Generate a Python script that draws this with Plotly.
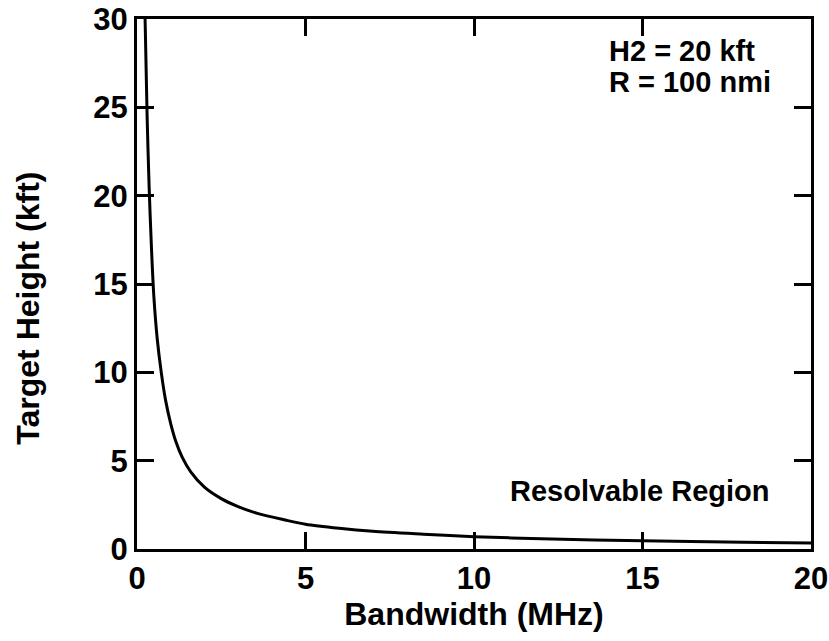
import plotly.graph_objects as go

bandwidth_mhz = [0.24, 0.3, 0.36, 0.43, 0.5, 0.6, 0.72, 0.85, 1.0, 1.15, 1.34, 1.6, 2.0, 2.5, 3.0, 3.6, 4.4, 5.0, 6.0, 7.0, 8.5, 10.0, 12.0, 15.0, 18.0, 20.0]
target_height_kft = [30.0, 24.5, 20.5, 17.0, 14.3, 11.9, 10.0, 8.4, 7.1, 6.1, 5.2, 4.35, 3.5, 2.85, 2.4, 2.0, 1.64, 1.4, 1.17, 1.0, 0.84, 0.7, 0.58, 0.46, 0.38, 0.34]

x_ticks = [0, 5, 10, 15, 20]
y_ticks = [0, 5, 10, 15, 20, 25, 30]

FONT = "Liberation Sans, Arial, Helvetica, sans-serif"

fig = go.Figure()
fig.add_trace(go.Scatter(
    x=bandwidth_mhz, y=target_height_kft, mode="lines",
    line=dict(color="black", width=3, shape="spline", smoothing=0.8),
    showlegend=False, hoverinfo="skip",
))

axis_common = dict(
    showline=True, linecolor="black", linewidth=3, mirror="ticks",
    ticks="inside", ticklen=17, tickwidth=3, tickcolor="black",
    showgrid=False, zeroline=False, automargin=False,
    tickfont=dict(family=FONT, size=31, color="black", weight="bold"),
)

fig.update_xaxes(
    range=[0, 20], tickvals=x_ticks,
    title=dict(text="Bandwidth (MHz)", font=dict(family=FONT, size=32, color="black", weight="bold"), standoff=6),
    **axis_common,
)
fig.update_yaxes(range=[0, 30], tickvals=y_ticks, **axis_common)

# y-axis title placed to match the reference (slightly below plot centre)
fig.add_annotation(
    xref="paper", yref="paper", x=-0.162, y=0.455, text="Target Height (kft)",
    textangle=-90, showarrow=False, xanchor="center", yanchor="middle",
    font=dict(family=FONT, size=32, color="black", weight="bold"),
)

ann_font = dict(family=FONT, size=29, color="black", weight="bold")
fig.add_annotation(x=13.95, y=28.2, text="H2 = 20 kft", showarrow=False, xanchor="left", yanchor="middle", font=ann_font)
fig.add_annotation(x=13.95, y=26.45, text="R = 100 nmi", showarrow=False, xanchor="left", yanchor="middle", font=ann_font)
fig.add_annotation(x=11.0, y=3.3, text="Resolvable Region", showarrow=False, xanchor="left", yanchor="middle", font=ann_font)

fig.update_layout(
    width=829, height=641,
    margin=dict(l=137, r=18, t=19, b=92),
    paper_bgcolor="white", plot_bgcolor="white",
)

fig.write_html("out.html")
